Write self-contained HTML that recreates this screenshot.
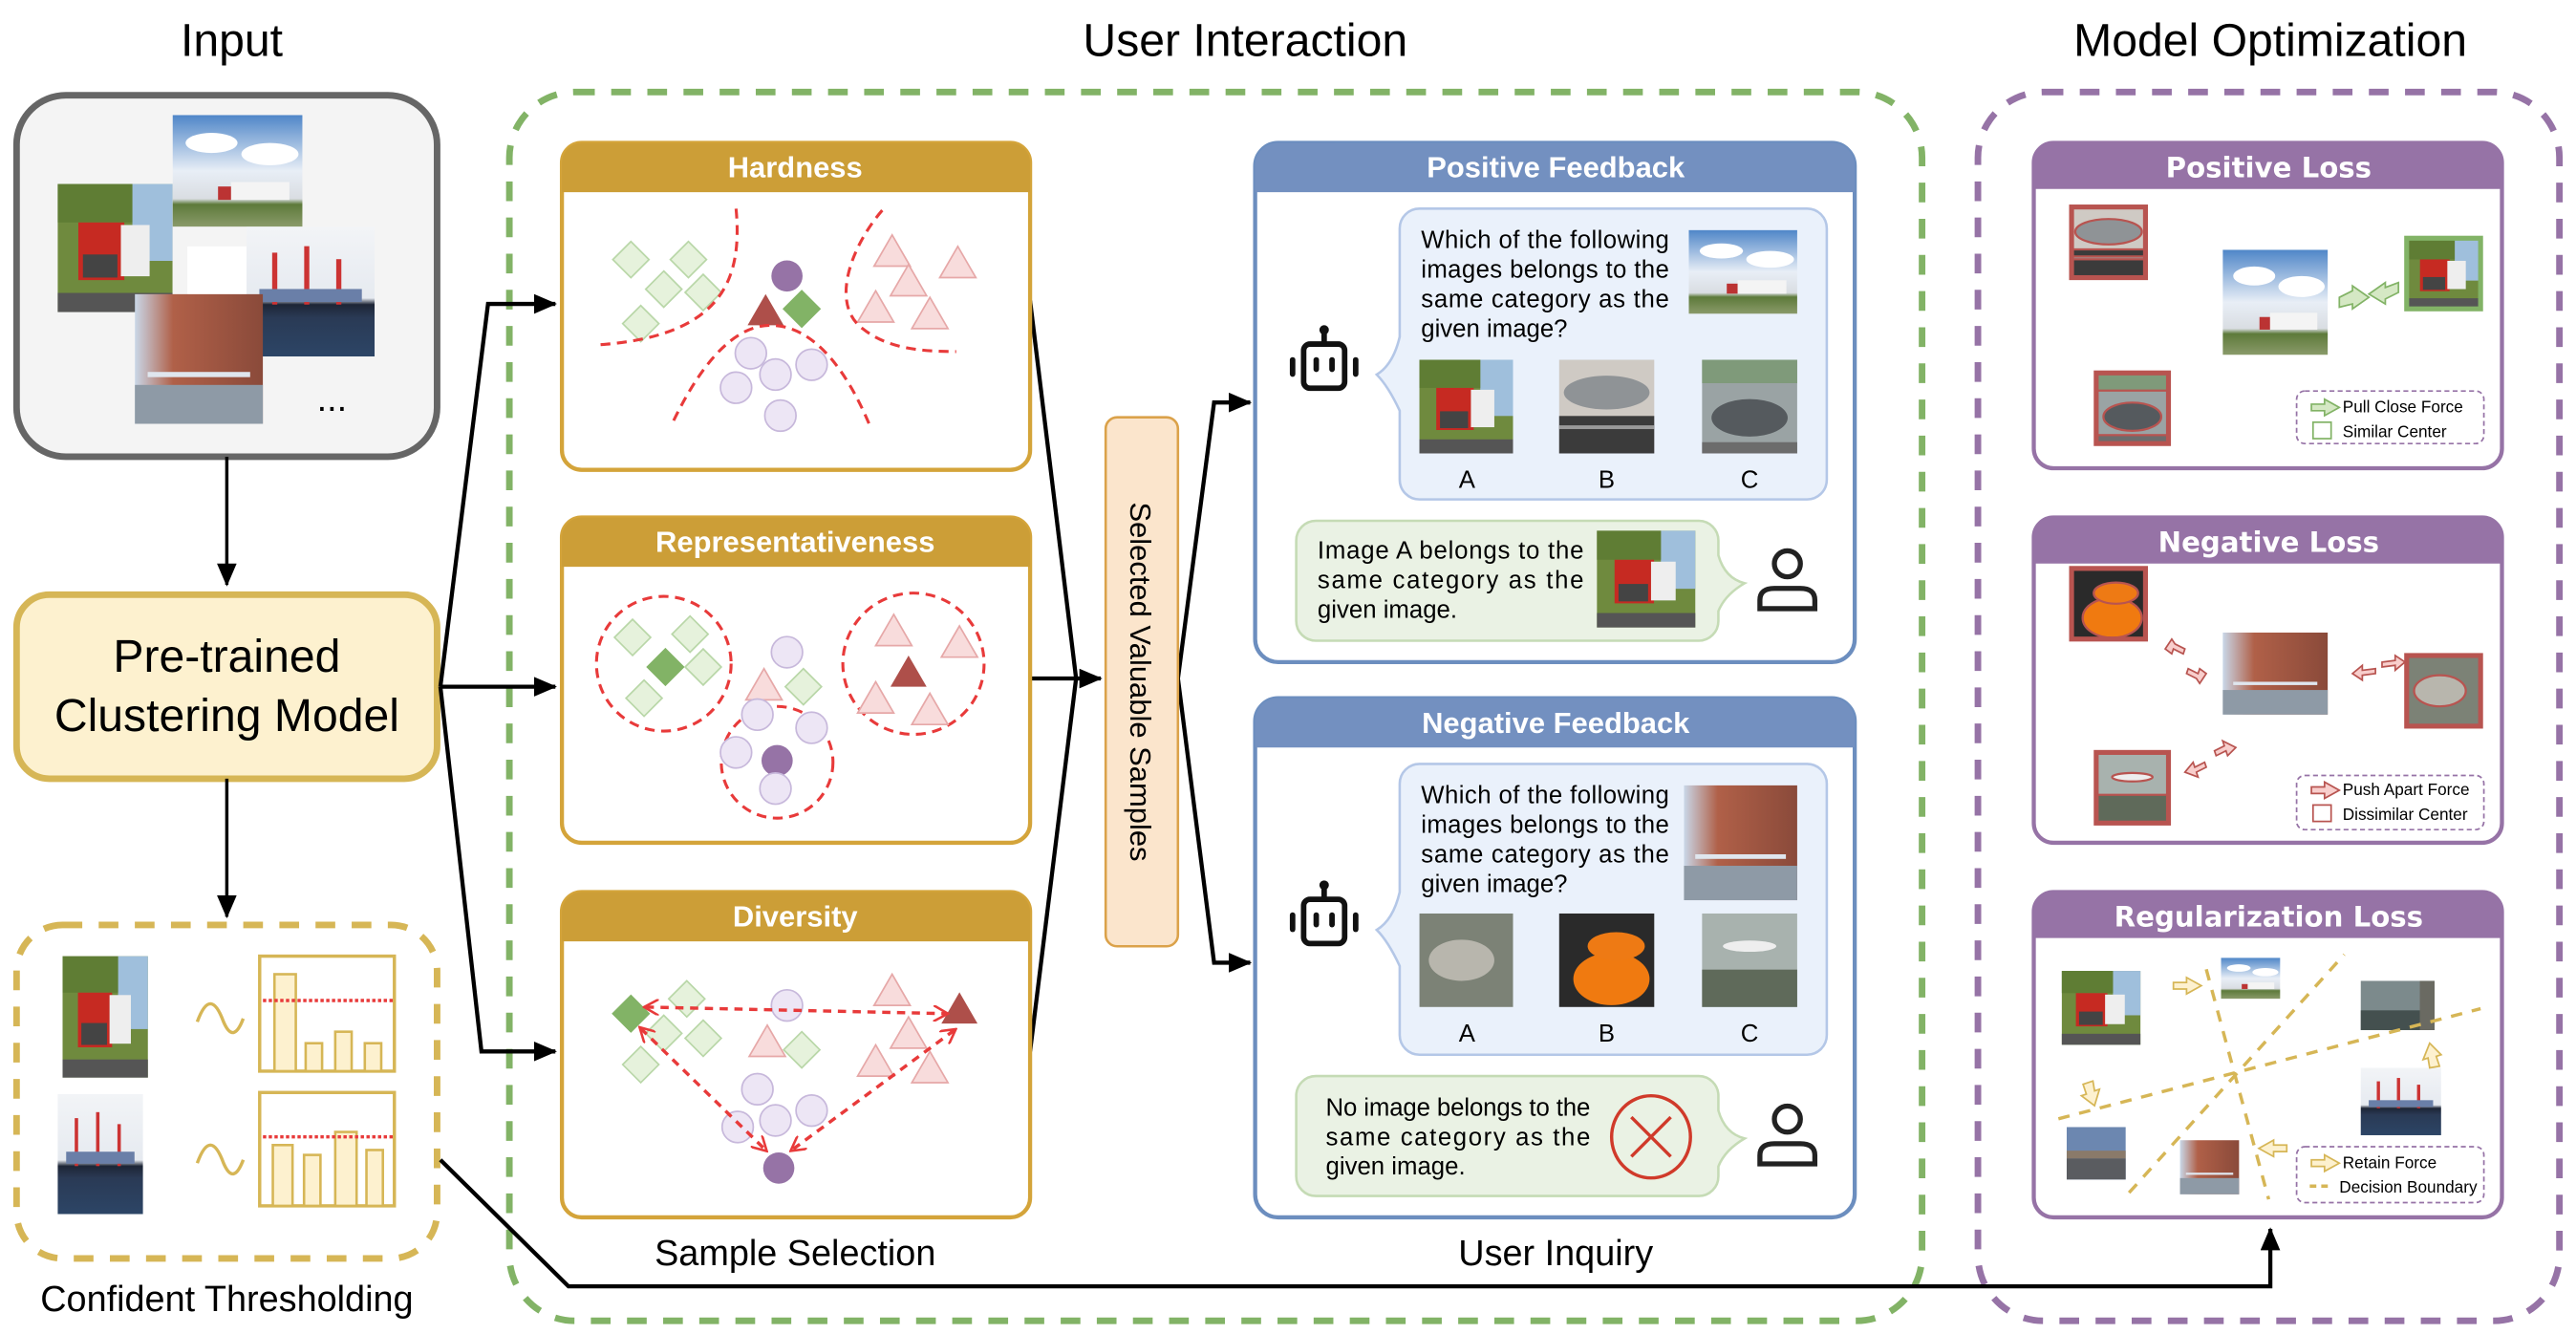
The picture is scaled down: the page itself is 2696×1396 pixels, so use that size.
<!DOCTYPE html>
<html><head><meta charset="utf-8"><style>html,body{margin:0;padding:0;background:#fff}svg{display:block}</style></head>
<body>
<svg xmlns="http://www.w3.org/2000/svg" width="2696" height="1396" viewBox="0 0 1568 812" font-family="'Liberation Sans', sans-serif">
<defs>
<marker id="ar2" markerWidth="14" markerHeight="12" refX="13" refY="6" orient="auto" markerUnits="userSpaceOnUse"><path d="M0,0 L14,6 L0,12 z" fill="#000"/></marker>
<marker id="rd" markerWidth="10" markerHeight="10" refX="8" refY="5" orient="auto-start-reverse" markerUnits="userSpaceOnUse"><path d="M0,0 L9,5 L0,10" fill="none" stroke="#e83a3a" stroke-width="1.5"/></marker>
<linearGradient id="gSky" x1="0" y1="0" x2="0" y2="1"><stop offset="0" stop-color="#4f86c8"/><stop offset="0.5" stop-color="#e8eef6"/><stop offset="0.75" stop-color="#d9dde2"/><stop offset="0.8" stop-color="#5d7a3a"/><stop offset="1" stop-color="#8a9a6a"/></linearGradient>
<linearGradient id="gWater" x1="0" y1="0" x2="0" y2="1"><stop offset="0" stop-color="#f2f4f7"/><stop offset="0.55" stop-color="#e6eaf0"/><stop offset="0.6" stop-color="#1d2536"/><stop offset="0.7" stop-color="#2a3a55"/><stop offset="1" stop-color="#2c4566"/></linearGradient>
<linearGradient id="gBld" x1="0" y1="0" x2="1" y2="0"><stop offset="0" stop-color="#c9d7e8"/><stop offset="0.3" stop-color="#b06048"/><stop offset="1" stop-color="#8a4a3a"/></linearGradient>
<symbol id="truck" viewBox="0 0 100 100" preserveAspectRatio="none"><rect width="100" height="100" fill="#6f8a3e"/><rect x="65" width="35" height="60" fill="#9fbfdc"/><rect x="0" y="0" width="65" height="30" fill="#5f7d34"/><rect x="18" y="30" width="40" height="45" fill="#c62a22"/><rect x="55" y="32" width="25" height="40" fill="#eee"/><rect x="22" y="55" width="30" height="18" fill="#444"/><rect y="85" width="100" height="15" fill="#555"/></symbol>
<symbol id="skytruck" viewBox="0 0 100 100" preserveAspectRatio="none"><rect width="100" height="100" fill="url(#gSky)"/><ellipse cx="30" cy="25" rx="20" ry="9" fill="#fff"/><ellipse cx="75" cy="35" rx="22" ry="10" fill="#fff"/><rect x="45" y="60" width="45" height="16" fill="#f4f4f4"/><rect x="35" y="64" width="10" height="12" fill="#b33"/></symbol>
<symbol id="ship" viewBox="0 0 100 100" preserveAspectRatio="none"><rect width="100" height="100" fill="url(#gWater)"/><rect x="20" y="20" width="4" height="40" fill="#c33"/><rect x="45" y="15" width="4" height="45" fill="#c33"/><rect x="70" y="25" width="4" height="35" fill="#c33"/><rect x="10" y="48" width="80" height="10" fill="#6a7fa8"/></symbol>
<symbol id="bld" viewBox="0 0 100 100" preserveAspectRatio="none"><rect width="100" height="100" fill="url(#gBld)"/><rect y="70" width="100" height="30" fill="#8e9aa6"/><rect x="10" y="60" width="80" height="4" fill="#dfe6ee"/></symbol>
<symbol id="blimp" viewBox="0 0 100 100" preserveAspectRatio="none"><rect width="100" height="100" fill="#cfcac4"/><ellipse cx="50" cy="35" rx="45" ry="18" fill="#8f9396"/><rect y="60" width="100" height="40" fill="#3b3b3b"/><rect y="70" width="100" height="4" fill="#999"/></symbol>
<symbol id="car" viewBox="0 0 100 100" preserveAspectRatio="none"><rect width="100" height="100" fill="#9aa3a4"/><rect width="100" height="25" fill="#7f9a7a"/><ellipse cx="50" cy="62" rx="40" ry="20" fill="#555a5e"/><rect y="88" width="100" height="12" fill="#6c6c6c"/></symbol>
<symbol id="orange" viewBox="0 0 100 100" preserveAspectRatio="none"><rect width="100" height="100" fill="#2a2a2a"/><ellipse cx="55" cy="70" rx="40" ry="28" fill="#f07a10"/><ellipse cx="60" cy="35" rx="30" ry="15" fill="#ee7a14"/></symbol>
<symbol id="plane" viewBox="0 0 100 100" preserveAspectRatio="none"><rect width="100" height="100" fill="#a8b2ae"/><rect y="60" width="100" height="40" fill="#5f6a5a"/><ellipse cx="50" cy="35" rx="28" ry="6" fill="#eee"/></symbol>
<symbol id="leo" viewBox="0 0 100 100" preserveAspectRatio="none"><rect width="100" height="100" fill="#7c8276"/><ellipse cx="45" cy="50" rx="35" ry="22" fill="#b8b6ad"/></symbol>
<symbol id="airport" viewBox="0 0 100 100" preserveAspectRatio="none"><rect width="100" height="100" fill="#6c87b0"/><rect y="45" width="100" height="15" fill="#8a7a6a"/><rect y="60" width="100" height="40" fill="#5a5c60"/></symbol>
<symbol id="harbor" viewBox="0 0 100 100" preserveAspectRatio="none"><rect width="100" height="100" fill="#7c8a8c"/><rect y="60" width="100" height="40" fill="#44504f"/><rect x="80" width="20" height="100" fill="#6a6a62"/></symbol>
<symbol id="robot" viewBox="0 0 50 50"><g fill="none" stroke="#111" stroke-width="3.5" stroke-linecap="round"><rect x="12" y="14" width="26" height="28" rx="4"/><line x1="25" y1="14" x2="25" y2="6"/><line x1="5" y1="24" x2="5" y2="33"/><line x1="45" y1="24" x2="45" y2="33"/><line x1="20" y1="24" x2="20" y2="30"/><line x1="30" y1="24" x2="30" y2="30"/></g><circle cx="25" cy="5" r="3" fill="#111"/></symbol>
<symbol id="person" viewBox="0 0 50 50"><g fill="none" stroke="#222" stroke-width="3.5"><circle cx="25" cy="15" r="9"/><path d="M6,46 L6,40 Q6,32 16,32 L34,32 Q44,32 44,40 L44,46 Z"/></g></symbol>
<symbol id="dl" viewBox="-12 -12 24 24"><path d="M0,-11 L11,0 L0,11 L-11,0 Z" fill="#e6f2dc" stroke="#b9d7a8" stroke-width="1"/></symbol>
<symbol id="dd" viewBox="-12 -12 24 24"><path d="M0,-11 L11,0 L0,11 L-11,0 Z" fill="#82b366" stroke="#82b366" stroke-width="1"/></symbol>
<symbol id="tl" viewBox="-12 -12 24 24"><path d="M0,-10 L11,9 L-11,9 Z" fill="#f8dcdc" stroke="#e6a8a8" stroke-width="1"/></symbol>
<symbol id="td" viewBox="-12 -12 24 24"><path d="M0,-10 L11,9 L-11,9 Z" fill="#ae4f4a"/></symbol>
<symbol id="cl" viewBox="-12 -12 24 24"><circle r="9.5" fill="#ede6f5" stroke="#c7b8db" stroke-width="1"/></symbol>
<symbol id="cd" viewBox="-12 -12 24 24"><circle r="9.5" fill="#9673a6"/></symbol>
</defs>

<g font-size="28" text-anchor="middle" fill="#000">
<text x="141" y="34">Input</text>
<text x="758" y="34">User Interaction</text>
<text x="1382" y="34">Model Optimization</text>
</g>

<rect x="10" y="58" width="256" height="220" rx="30" fill="#f4f4f4" stroke="#666" stroke-width="4"/>
<use href="#skytruck" x="105" y="70" width="79" height="68"/>
<use href="#truck" x="35" y="112" width="70" height="78"/>
<rect x="114" y="150" width="36" height="30" fill="#fff"/>
<use href="#ship" x="150" y="138" width="78" height="79"/>
<use href="#bld" x="82" y="179" width="78" height="79"/>
<text x="202" y="250" font-size="22" text-anchor="middle">...</text>

<line x1="138" y1="278" x2="138" y2="356" stroke="#000" stroke-width="2" marker-end="url(#ar2)"/>
<rect x="10" y="362" width="256" height="112" rx="20" fill="#fdf1cf" stroke="#d6b656" stroke-width="4"/>
<text x="138" y="409" font-size="28" text-anchor="middle">Pre-trained</text>
<text x="138" y="445" font-size="28" text-anchor="middle">Clustering Model</text>
<line x1="138" y1="474" x2="138" y2="558" stroke="#000" stroke-width="2" marker-end="url(#ar2)"/>

<rect x="10" y="563" width="256" height="203" rx="28" fill="none" stroke="#d6b656" stroke-width="4" stroke-dasharray="12,10"/>
<use href="#truck" x="38" y="582" width="52" height="74"/>
<path d="M120,622 q8,-22 16,0 q6,14 12,-2" fill="none" stroke="#d6b656" stroke-width="2"/>
<g fill="#fdf1cf" stroke="#d6b656" stroke-width="1.5">
<rect x="158" y="582" width="82" height="70" fill="#fff" stroke-width="2"/>
<rect x="167" y="593" width="13" height="59"/><rect x="186" y="635" width="10" height="17"/><rect x="204" y="628" width="10" height="24"/><rect x="222" y="635" width="10" height="17"/>
<rect x="158" y="665" width="82" height="69" fill="#fff" stroke-width="2"/>
<rect x="166" y="697" width="12" height="37"/><rect x="185" y="703" width="10" height="31"/><rect x="204" y="689" width="13" height="45"/><rect x="223" y="700" width="10" height="34"/>
</g>
<line x1="160" y1="609" x2="240" y2="609" stroke="#e83a3a" stroke-width="2" stroke-dasharray="2,1.5"/>
<line x1="160" y1="692" x2="240" y2="692" stroke="#e83a3a" stroke-width="2" stroke-dasharray="2,1.5"/>
<use href="#ship" x="35" y="666" width="52" height="73"/>
<path d="M120,708 q8,-22 16,0 q6,14 12,-2" fill="none" stroke="#d6b656" stroke-width="2"/>
<text x="138" y="798" font-size="22" text-anchor="middle">Confident Thresholding</text>

<rect x="310" y="56" width="860" height="748" rx="40" fill="none" stroke="#82b366" stroke-width="4" stroke-dasharray="12,10"/>
<rect x="1204" y="56" width="354" height="748" rx="40" fill="none" stroke="#9673a6" stroke-width="4" stroke-dasharray="12,10"/>

<g fill="none" stroke="#000" stroke-width="2.5">
<polyline points="268,418 297,185 338,185" marker-end="url(#ar2)"/>
<line x1="268" y1="418" x2="338" y2="418" marker-end="url(#ar2)"/>
<polyline points="268,418 293,640 338,640" marker-end="url(#ar2)"/>
<polyline points="627,183 655,413"/>
<polyline points="627,640 655,413"/>
<line x1="627" y1="413" x2="670" y2="413" marker-end="url(#ar2)"/>
<polyline points="717,413 739,245 761,245" marker-end="url(#ar2)"/>
<polyline points="717,413 739,586 761,586" marker-end="url(#ar2)"/>
<polyline points="268,706 346,783 1382,783 1382,748" marker-end="url(#ar2)"/>
</g>

<rect x="673" y="254" width="44" height="322" rx="7" fill="#fbe5cc" stroke="#dba24a" stroke-width="1.5"/>
<text transform="translate(688,415) rotate(90)" font-size="18" text-anchor="middle">Selected Valuable Samples</text>

<g stroke="#d4a43a" stroke-width="2.5">
<rect x="342" y="87" width="285" height="199" rx="12" fill="#fff"/>
<rect x="342" y="315" width="285" height="198" rx="12" fill="#fff"/>
<rect x="342" y="543" width="285" height="198" rx="12" fill="#fff"/>
</g>
<g fill="#cc9e37">
<path d="M342,117 V99 a12,12 0 0 1 12,-12 H615 a12,12 0 0 1 12,12 V117 Z"/>
<path d="M342,345 V327 a12,12 0 0 1 12,-12 H615 a12,12 0 0 1 12,12 V345 Z"/>
<path d="M342,573 V555 a12,12 0 0 1 12,-12 H615 a12,12 0 0 1 12,12 V573 Z"/>
</g>
<g font-size="18" font-weight="bold" fill="#fff" text-anchor="middle">
<text x="484" y="108">Hardness</text>
<text x="484" y="336">Representativeness</text>
<text x="484" y="564">Diversity</text>
</g>
<text x="484" y="770" font-size="22" text-anchor="middle">Sample Selection</text>
<text x="947" y="770" font-size="22" text-anchor="middle">User Inquiry</text>

<use href="#dl" x="372" y="146" width="24" height="24"/><use href="#dl" x="407" y="146" width="24" height="24"/>
<use href="#dl" x="392" y="164" width="24" height="24"/><use href="#dl" x="416" y="166" width="24" height="24"/>
<use href="#dl" x="378" y="185" width="24" height="24"/>
<use href="#cd" x="467" y="156" width="24" height="24"/>
<use href="#td" x="454" y="177" width="24" height="24"/><use href="#dd" x="476" y="176" width="24" height="24"/>
<use href="#cl" x="445" y="203" width="24" height="24"/><use href="#cl" x="482" y="210" width="24" height="24"/>
<use href="#cl" x="460" y="216" width="24" height="24"/><use href="#cl" x="436" y="224" width="24" height="24"/>
<use href="#cl" x="463" y="241" width="24" height="24"/>
<use href="#tl" x="531" y="141" width="24" height="24"/><use href="#tl" x="571" y="148" width="24" height="24"/>
<use href="#tl" x="541" y="159" width="24" height="24"/><use href="#tl" x="521" y="175" width="24" height="24"/>
<use href="#tl" x="554" y="179" width="24" height="24"/>
<g fill="none" stroke="#e83a3a" stroke-width="1.8" stroke-dasharray="6,4">
<path d="M448,127 C452,170 440,205 363,210"/>
<path d="M410,256 C430,215 450,198 469,198 C495,198 515,225 529,258"/>
<path d="M537,128 C518,150 505,185 525,200 C540,212 560,214 582,214"/>
</g>

<g fill="none" stroke="#e83a3a" stroke-width="1.8" stroke-dasharray="6,4">
<circle cx="404" cy="404" r="41"/><circle cx="473" cy="464" r="34"/><circle cx="556" cy="404" r="43"/>
</g>
<use href="#dl" x="373" y="376" width="24" height="24"/><use href="#dl" x="408" y="374" width="24" height="24"/>
<use href="#dd" x="393" y="394" width="24" height="24"/><use href="#dl" x="416" y="394" width="24" height="24"/>
<use href="#dl" x="380" y="413" width="24" height="24"/>
<use href="#cl" x="467" y="385" width="24" height="24"/>
<use href="#tl" x="453" y="405" width="24" height="24"/><use href="#dl" x="477" y="406" width="24" height="24"/>
<use href="#cl" x="449" y="423" width="24" height="24"/><use href="#cl" x="482" y="431" width="24" height="24"/>
<use href="#cd" x="461" y="451" width="24" height="24"/><use href="#cl" x="436" y="446" width="24" height="24"/>
<use href="#cl" x="460" y="468" width="24" height="24"/>
<use href="#tl" x="532" y="372" width="24" height="24"/><use href="#tl" x="572" y="379" width="24" height="24"/>
<use href="#td" x="541" y="397" width="24" height="24"/><use href="#tl" x="521" y="413" width="24" height="24"/>
<use href="#tl" x="554" y="420" width="24" height="24"/>

<use href="#dd" x="372" y="605" width="24" height="24"/><use href="#dl" x="406" y="596" width="24" height="24"/>
<use href="#dl" x="392" y="617" width="24" height="24"/><use href="#dl" x="416" y="620" width="24" height="24"/>
<use href="#dl" x="378" y="636" width="24" height="24"/>
<use href="#cl" x="467" y="600" width="24" height="24"/>
<use href="#tl" x="455" y="622" width="24" height="24"/><use href="#dl" x="476" y="627" width="24" height="24"/>
<use href="#tl" x="531" y="591" width="24" height="24"/><use href="#tl" x="541" y="617" width="24" height="24"/>
<use href="#tl" x="521" y="634" width="24" height="24"/><use href="#tl" x="554" y="638" width="24" height="24"/>
<use href="#td" x="572" y="602" width="24" height="24"/>
<use href="#cl" x="449" y="651" width="24" height="24"/><use href="#cl" x="482" y="664" width="24" height="24"/>
<use href="#cl" x="460" y="670" width="24" height="24"/><use href="#cl" x="437" y="674" width="24" height="24"/>
<use href="#cd" x="462" y="699" width="24" height="24"/>
<g fill="none" stroke="#e83a3a" stroke-width="2" stroke-dasharray="5,4" marker-start="url(#rd)" marker-end="url(#rd)">
<line x1="393" y1="613" x2="576" y2="617"/>
<line x1="390" y1="626" x2="466" y2="700"/>
<line x1="581" y1="627" x2="482" y2="700"/>
</g>

<g stroke="#6c8ebf" stroke-width="2.5" fill="#fff">
<rect x="764" y="87" width="365" height="316" rx="14"/>
<rect x="764" y="425" width="365" height="316" rx="14"/>
</g>
<g fill="#7390c0">
<path d="M764,117 V101 a14,14 0 0 1 14,-14 H1115 a14,14 0 0 1 14,14 V117 Z"/>
<path d="M764,455 V439 a14,14 0 0 1 14,-14 H1115 a14,14 0 0 1 14,14 V455 Z"/>
</g>
<g font-size="18" font-weight="bold" fill="#fff" text-anchor="middle">
<text x="947" y="108">Positive Feedback</text>
<text x="947" y="446">Negative Feedback</text>
</g>

<path d="M864,127 H1100 a12,12 0 0 1 12,12 V292 a12,12 0 0 1 -12,12 H864 a12,12 0 0 1 -12,-12 V250 Q845,235 838,228 Q848,222 852,205 V139 a12,12 0 0 1 12,-12 Z" fill="#eaf1fb" stroke="#b4c7e7" stroke-width="1.5"/>
<use href="#robot" x="782" y="196" width="48" height="48"/>
<g font-size="15" fill="#000">
<text x="865" y="151" textLength="151" lengthAdjust="spacing">Which of the following</text>
<text x="865" y="169" textLength="151" lengthAdjust="spacing">images belongs to the</text>
<text x="865" y="187" textLength="151" lengthAdjust="spacing">same category as the</text>
<text x="865" y="205">given image?</text>
</g>
<use href="#skytruck" x="1028" y="140" width="66" height="51"/>
<use href="#truck" x="864" y="219" width="57" height="57"/>
<use href="#blimp" x="949" y="219" width="58" height="57"/>
<use href="#car" x="1036" y="219" width="58" height="57"/>
<g font-size="15" text-anchor="middle"><text x="893" y="297">A</text><text x="978" y="297">B</text><text x="1065" y="297">C</text></g>
<path d="M801,317 H1034 a12,12 0 0 1 12,12 V338 Q1050,352 1062,355 Q1050,362 1046,372 V378 a12,12 0 0 1 -12,12 H801 a12,12 0 0 1 -12,-12 V329 a12,12 0 0 1 12,-12 Z" fill="#eaf2e4" stroke="#c5dbb5" stroke-width="1.5"/>
<g font-size="15" fill="#000">
<text x="802" y="340" textLength="162" lengthAdjust="spacing">Image A belongs to the</text>
<text x="802" y="358" textLength="162" lengthAdjust="spacing">same category as the</text>
<text x="802" y="376">given image.</text>
</g>
<use href="#truck" x="972" y="323" width="60" height="59"/>
<use href="#person" x="1066" y="330" width="44" height="44"/>

<path d="M864,465 H1100 a12,12 0 0 1 12,12 V630 a12,12 0 0 1 -12,12 H864 a12,12 0 0 1 -12,-12 V588 Q845,573 838,566 Q848,560 852,543 V477 a12,12 0 0 1 12,-12 Z" fill="#eaf1fb" stroke="#b4c7e7" stroke-width="1.5"/>
<use href="#robot" x="782" y="534" width="48" height="48"/>
<g font-size="15" fill="#000">
<text x="865" y="489" textLength="151" lengthAdjust="spacing">Which of the following</text>
<text x="865" y="507" textLength="151" lengthAdjust="spacing">images belongs to the</text>
<text x="865" y="525" textLength="151" lengthAdjust="spacing">same category as the</text>
<text x="865" y="543">given image?</text>
</g>
<use href="#bld" x="1025" y="478" width="69" height="70"/>
<use href="#leo" x="864" y="556" width="57" height="57"/>
<use href="#orange" x="949" y="556" width="58" height="57"/>
<use href="#plane" x="1036" y="556" width="58" height="57"/>
<g font-size="15" text-anchor="middle"><text x="893" y="634">A</text><text x="978" y="634">B</text><text x="1065" y="634">C</text></g>
<path d="M801,655 H1034 a12,12 0 0 1 12,12 V676 Q1050,690 1062,693 Q1050,700 1046,710 V716 a12,12 0 0 1 -12,12 H801 a12,12 0 0 1 -12,-12 V667 a12,12 0 0 1 12,-12 Z" fill="#eaf2e4" stroke="#c5dbb5" stroke-width="1.5"/>
<g font-size="15" fill="#000">
<text x="807" y="679" textLength="161" lengthAdjust="spacing">No image belongs to the</text>
<text x="807" y="697" textLength="161" lengthAdjust="spacing">same category as the</text>
<text x="807" y="715">given image.</text>
</g>
<ellipse cx="1005" cy="692" rx="24" ry="25" fill="none" stroke="#d03a2a" stroke-width="2"/>
<path d="M993,680 L1017,704 M1017,680 L993,704" stroke="#d03a2a" stroke-width="2"/>
<use href="#person" x="1066" y="668" width="44" height="44"/>

<g stroke="#9673a6" stroke-width="2.5" fill="#fff">
<rect x="1238" y="87" width="285" height="198" rx="12"/>
<rect x="1238" y="315" width="285" height="198" rx="12"/>
<rect x="1238" y="543" width="285" height="198" rx="12"/>
</g>
<g fill="#9673a6">
<path d="M1238,115 V99 a12,12 0 0 1 12,-12 H1511 a12,12 0 0 1 12,12 V115 Z"/>
<path d="M1238,343 V327 a12,12 0 0 1 12,-12 H1511 a12,12 0 0 1 12,12 V343 Z"/>
<path d="M1238,571 V555 a12,12 0 0 1 12,-12 H1511 a12,12 0 0 1 12,12 V571 Z"/>
</g>
<g font-size="17" font-weight="bold" fill="#fff" text-anchor="middle" font-family="'DejaVu Sans', sans-serif">
<text x="1381" y="108">Positive Loss</text>
<text x="1381" y="336">Negative Loss</text>
<text x="1381" y="564">Regularization Loss</text>
</g>

<g stroke="#b85450" stroke-width="3">
<use href="#blimp" x="1261" y="126" width="45" height="43"/><rect x="1261" y="126" width="45" height="43" fill="none"/>
<use href="#car" x="1276" y="227" width="44" height="43"/><rect x="1276" y="227" width="44" height="43" fill="none"/>
</g>
<use href="#skytruck" x="1353" y="152" width="64" height="64"/>
<use href="#truck" x="1465" y="145" width="45" height="43"/><rect x="1465" y="145" width="45" height="43" fill="none" stroke="#82b366" stroke-width="3"/>
<g fill="#d5e8c4" stroke="#82b366" stroke-width="1">
<path d="M1424,181 l8,-4 v-3 l10,7 l-10,7 v-3 l-8,2 z"/>
<path d="M1460,172 l-8,3 v-3 l-10,7 l10,6 v-3 l8,-4 z"/>
<path d="M1407,246 h8 v-3 l9,5 l-9,5 v-3 h-8 z"/>
</g>
<rect x="1398" y="238" width="114" height="32" rx="5" fill="none" stroke="#9673a6" stroke-width="1" stroke-dasharray="3,2"/>
<rect x="1408" y="257" width="11" height="10" fill="none" stroke="#82b366" stroke-width="1"/>
<g font-size="10" fill="#000"><text x="1426" y="251">Pull Close Force</text><text x="1426" y="266">Similar Center</text></g>

<g stroke="#b85450" stroke-width="3" fill="none">
<use href="#orange" x="1261" y="346" width="45" height="43"/><rect x="1261" y="346" width="45" height="43"/>
<use href="#plane" x="1276" y="458" width="44" height="43"/><rect x="1276" y="458" width="44" height="43"/>
<use href="#leo" x="1465" y="399" width="45" height="43"/><rect x="1465" y="399" width="45" height="43"/>
</g>
<use href="#bld" x="1353" y="385" width="64" height="50"/>
<g fill="#f8cecc" stroke="#b85450" stroke-width="1">
<path d="M1318,395 l4,-6 l2,3 l6,3 l-1,3 l-6,-3 l-1,3 z"/>
<path d="M1343,410 l-4,6 l-2,-3 l-6,-3 l1,-3 l6,3 l1,-3 z"/>
<path d="M1432,410 l6,-5 v3 l8,-1 v3 l-8,1 v3 z"/>
<path d="M1464,403 l-6,-4 v3 l-8,1 v3 l8,-1 v3 z"/>
<path d="M1330,470 l5,-6 l1,3 l6,-3 l1,3 l-6,3 l1,3 z"/>
<path d="M1361,455 l-5,5 l-1,-3 l-6,3 l-1,-3 l6,-3 l-1,-3 z"/>
<path d="M1407,479 h8 v-3 l9,5 l-9,5 v-3 h-8 z"/>
</g>
<rect x="1398" y="472" width="114" height="33" rx="5" fill="none" stroke="#9673a6" stroke-width="1" stroke-dasharray="3,2"/>
<rect x="1408" y="490" width="11" height="10" fill="none" stroke="#b85450" stroke-width="1"/>
<g font-size="10" fill="#000"><text x="1426" y="484">Push Apart Force</text><text x="1426" y="499">Dissimilar Center</text></g>

<use href="#truck" x="1255" y="591" width="48" height="45"/>
<use href="#skytruck" x="1352" y="583" width="36" height="25"/>
<use href="#harbor" x="1437" y="597" width="45" height="30"/>
<use href="#ship" x="1437" y="650" width="49" height="41"/>
<use href="#airport" x="1258" y="686" width="36" height="32"/>
<use href="#bld" x="1327" y="694" width="36" height="33"/>
<g fill="none" stroke="#d6b656" stroke-width="2" stroke-dasharray="7,6">
<line x1="1253" y1="681" x2="1510" y2="614"/>
<line x1="1343" y1="590" x2="1381" y2="730"/>
<line x1="1296" y1="726" x2="1427" y2="581"/>
</g>
<g fill="#fdf1cf" stroke="#d6b656" stroke-width="1">
<path d="M1323,598 h8 v-3 l9,5 l-9,5 v-3 h-8 z"/>
<path d="M1268,660 l6,-2 l1,6 l3,-1 l-3,10 l-8,-6 l3,-1 z"/>
<path d="M1485,649 l-6,1 l-1,-6 l-3,1 l4,-10 l7,7 l-3,1 z"/>
<path d="M1392,701 h-8 v3 l-9,-5 l9,-5 v3 h8 z"/>
<path d="M1407,706 h8 v-3 l9,5 l-9,5 v-3 h-8 z"/>
</g>
<rect x="1398" y="698" width="114" height="34" rx="5" fill="none" stroke="#9673a6" stroke-width="1" stroke-dasharray="3,2"/>
<line x1="1406" y1="722" x2="1420" y2="722" stroke="#d6b656" stroke-width="2" stroke-dasharray="4,3"/>
<g font-size="10" fill="#000"><text x="1426" y="711">Retain Force</text><text x="1424" y="726">Decision Boundary</text></g>
</svg>
</body></html>
